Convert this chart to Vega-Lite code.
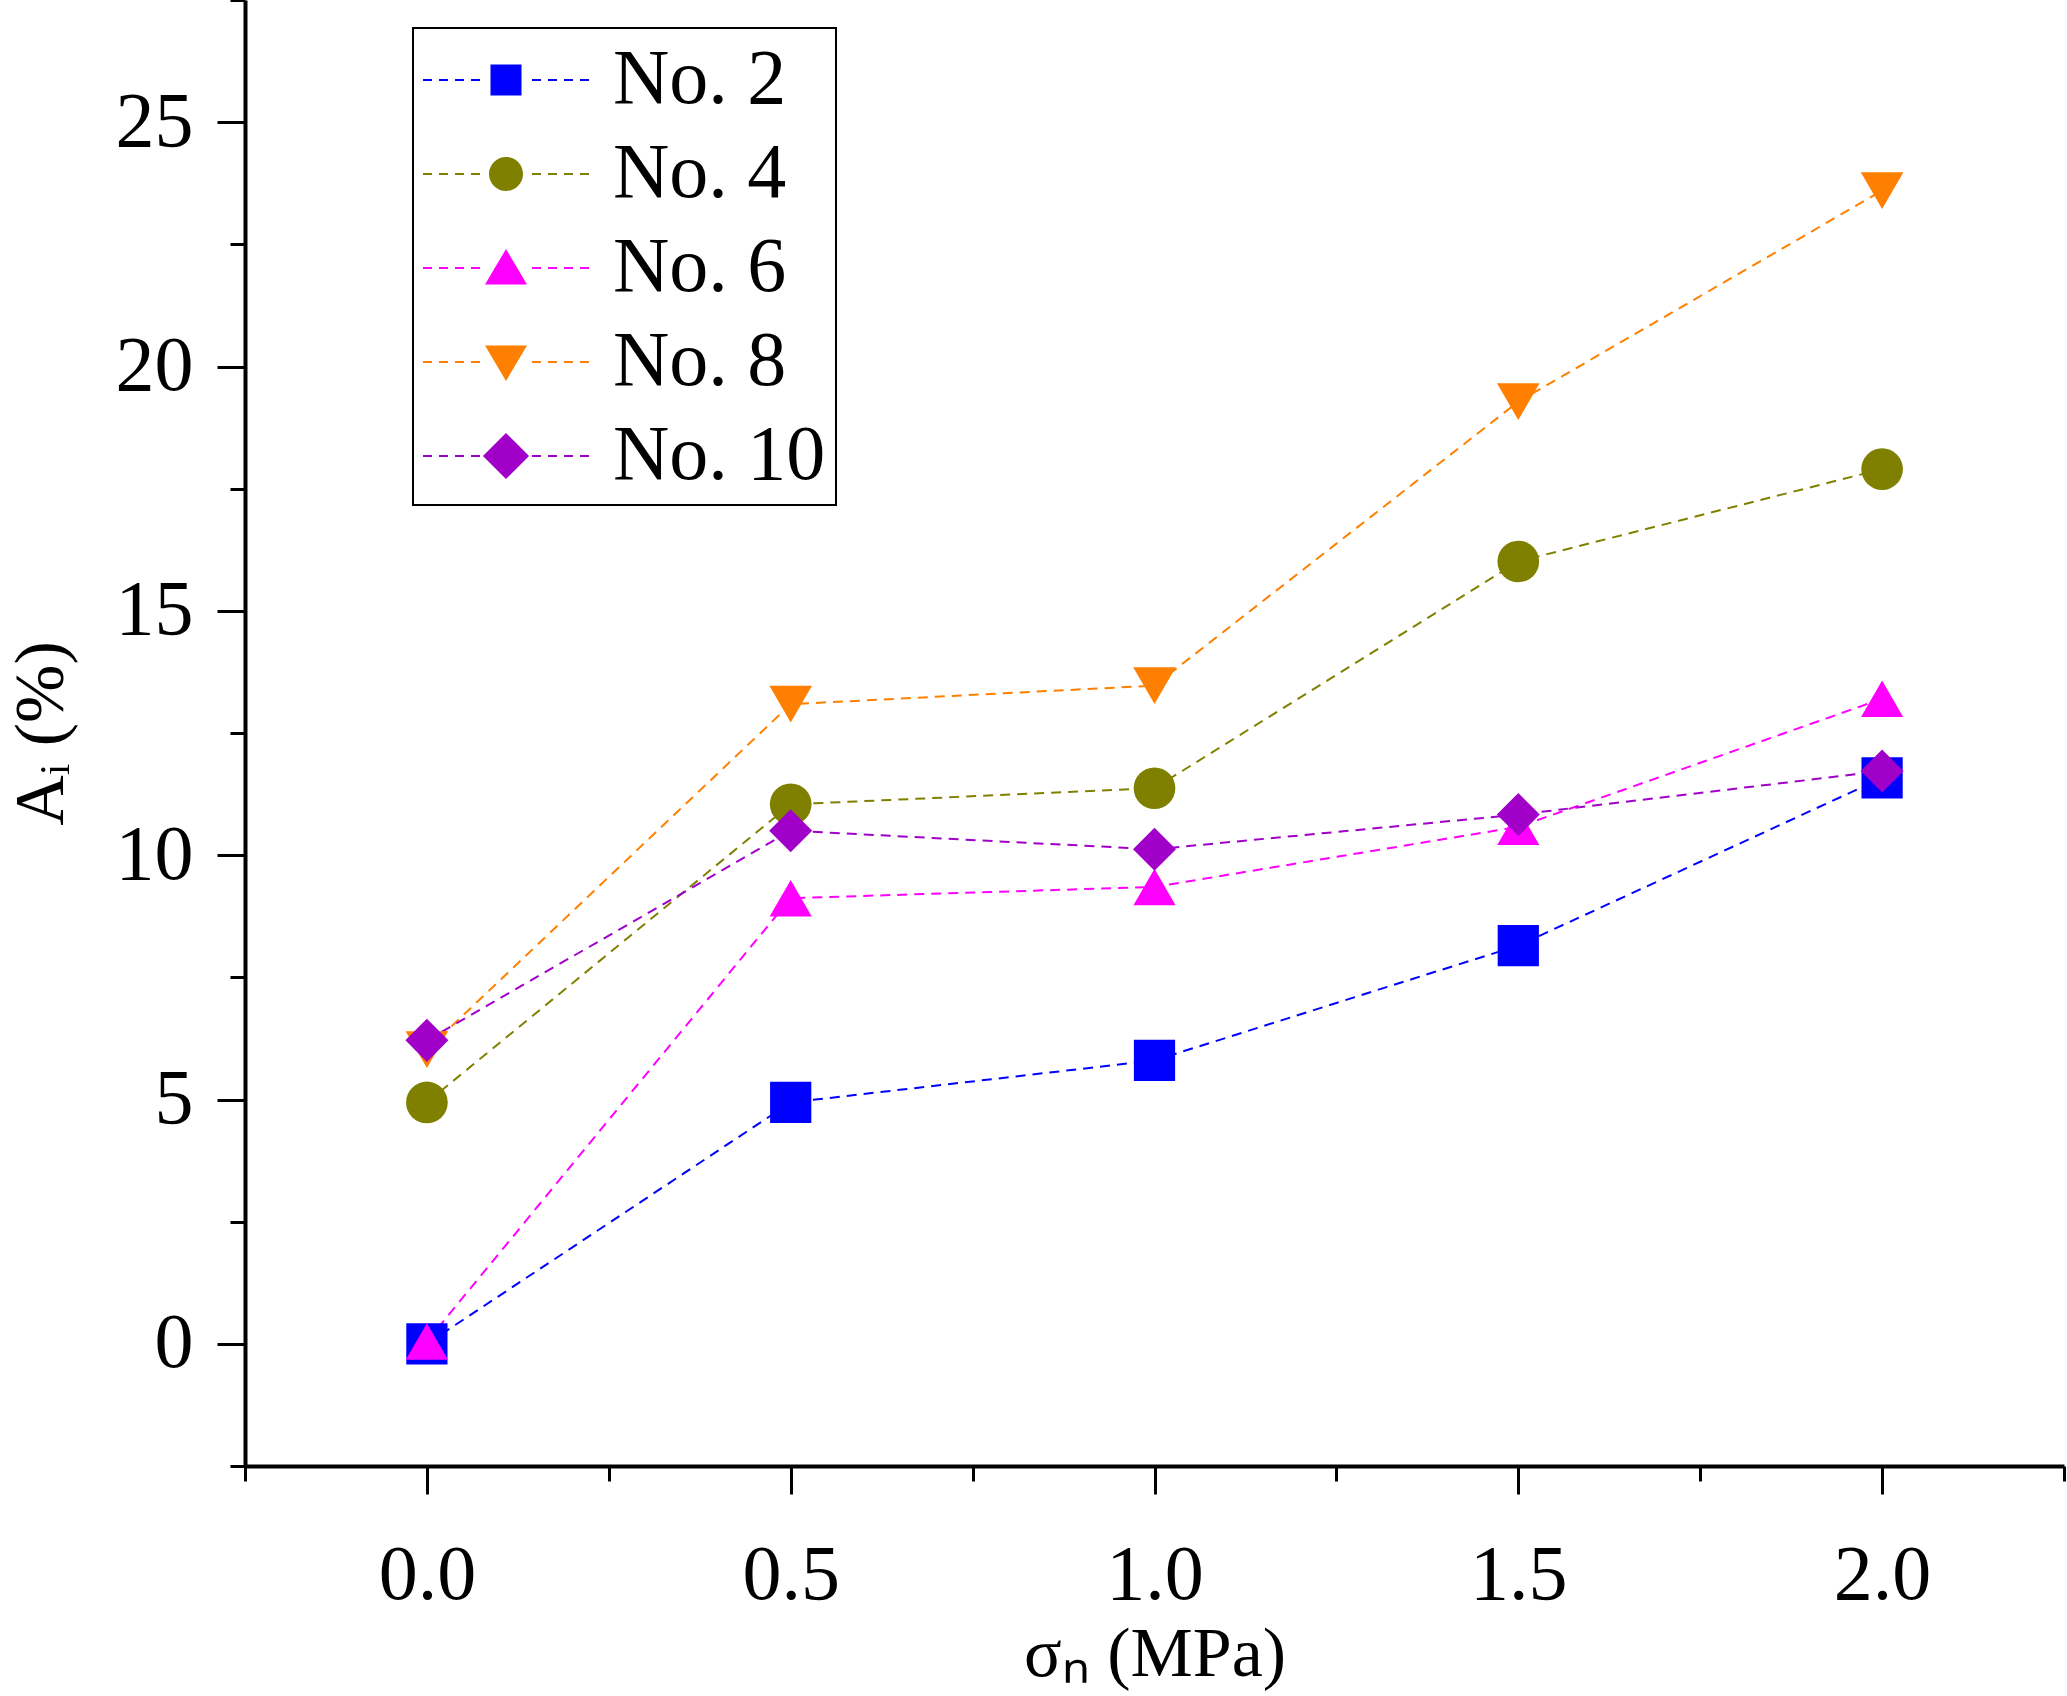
{
  "$schema": "https://vega.github.io/schema/vega-lite/v6.json",
  "autosize": "none",
  "width": 1819,
  "height": 1466,
  "padding": {"left": 245, "top": 0, "right": 3, "bottom": 230},
  "background": "white",
  "config": {
    "view": {"stroke": null},
    "font": "Liberation Serif",
    "legend": {"strokeWidth": 2},
    "axis": {
      "grid": false,
      "domainColor": "black",
      "domainWidth": 4,
      "tickColor": "black",
      "tickWidth": 3,
      "labelFont": "Liberation Serif",
      "labelFontSize": 78,
      "labelColor": "black",
      "titleFont": "Liberation Serif",
      "titleFontSize": 70,
      "titleFontWeight": "normal",
      "titleColor": "black"
    }
  },
  "resolve": {"axis": {"x": "independent", "y": "independent"}},
  "data": {
    "values": [
      {"sigma": 0.0, "A": 0.0, "series": "No. 2"},
      {"sigma": 0.5, "A": 4.94, "series": "No. 2"},
      {"sigma": 1.0, "A": 5.8, "series": "No. 2"},
      {"sigma": 1.5, "A": 8.15, "series": "No. 2"},
      {"sigma": 2.0, "A": 11.58, "series": "No. 2"},
      {"sigma": 0.0, "A": 4.94, "series": "No. 4"},
      {"sigma": 0.5, "A": 11.04, "series": "No. 4"},
      {"sigma": 1.0, "A": 11.37, "series": "No. 4"},
      {"sigma": 1.5, "A": 16.01, "series": "No. 4"},
      {"sigma": 2.0, "A": 17.9, "series": "No. 4"},
      {"sigma": 0.0, "A": 0.05, "series": "No. 6"},
      {"sigma": 0.5, "A": 9.12, "series": "No. 6"},
      {"sigma": 1.0, "A": 9.35, "series": "No. 6"},
      {"sigma": 1.5, "A": 10.58, "series": "No. 6"},
      {"sigma": 2.0, "A": 13.2, "series": "No. 6"},
      {"sigma": 0.0, "A": 6.02, "series": "No. 8"},
      {"sigma": 0.5, "A": 13.09, "series": "No. 8"},
      {"sigma": 1.0, "A": 13.47, "series": "No. 8"},
      {"sigma": 1.5, "A": 19.28, "series": "No. 8"},
      {"sigma": 2.0, "A": 23.6, "series": "No. 8"},
      {"sigma": 0.0, "A": 6.21, "series": "No. 10"},
      {"sigma": 0.5, "A": 10.5, "series": "No. 10"},
      {"sigma": 1.0, "A": 10.12, "series": "No. 10"},
      {"sigma": 1.5, "A": 10.83, "series": "No. 10"},
      {"sigma": 2.0, "A": 11.72, "series": "No. 10"}
    ]
  },
  "layer": [
    {
      "mark": {"type": "line", "strokeWidth": 2, "strokeDash": [10, 7]},
      "encoding": {
        "x": {
          "field": "sigma",
          "type": "quantitative",
          "scale": {"domain": [-0.25, 2.25], "nice": false, "zero": false},
          "axis": {
            "orient": "bottom",
            "values": [0, 0.5, 1, 1.5, 2],
            "format": ".1f",
            "tickSize": 28,
            "labelPadding": 42,
            "title": "σₙ (MPa)",
            "titlePadding": 6
          }
        },
        "y": {
          "field": "A",
          "type": "quantitative",
          "scale": {"domain": [-2.5, 27.5], "nice": false, "zero": false},
          "axis": {
            "orient": "left",
            "values": [0, 5, 10, 15, 20, 25],
            "tickSize": 28,
            "labelPadding": 24,
            "title": "Aᵢ (%)",
            "titlePadding": 38
          }
        },
        "stroke": {
          "field": "series",
          "type": "nominal",
          "scale": {
            "domain": ["No. 10", "No. 8", "No. 6", "No. 4", "No. 2"],
            "range": ["#A000C8", "#FF8000", "#FF00FF", "#808000", "#0000FF"]
          },
          "legend": null
        }
      }
    },
    {
      "mark": {"type": "point", "filled": true, "opacity": 1, "strokeWidth": 0},
      "encoding": {
        "x": {
          "field": "sigma",
          "type": "quantitative",
          "axis": {
            "orient": "bottom",
            "values": [-0.25, 0.25, 0.75, 1.25, 1.75, 2.25],
            "labels": false,
            "domain": false,
            "tickSize": 15,
            "title": null
          }
        },
        "y": {
          "field": "A",
          "type": "quantitative",
          "axis": {
            "orient": "left",
            "values": [-2.5, 2.5, 7.5, 12.5, 17.5, 22.5, 27.5],
            "labels": false,
            "domain": false,
            "tickSize": 15,
            "title": null
          }
        },
        "color": {
          "field": "series",
          "type": "nominal",
          "scale": {
            "domain": ["No. 2", "No. 4", "No. 6", "No. 8", "No. 10"],
            "range": ["#0000FF", "#808000", "#FF00FF", "#FF8000", "#A000C8"]
          },
          "legend": {
            "title": null,
            "orient": "none",
            "legendX": 168,
            "legendY": 28,
            "padding": 10,
            "strokeColor": "black",
            "fillColor": "white",
            "symbolSize": 7056,
            "symbolOffset": 41,
            "symbolStrokeWidth": 0,
            "labelFont": "Liberation Serif",
            "labelFontSize": 78,
            "labelColor": "black",
            "labelLimit": 400,
            "labelOffset": 65,
            "rowPadding": 13,
            "encoding": {
              "symbols": {
                "shape": {
                  "value": {
                    "expr": "(datum.value == 'No. 2' ? 'M-0.369,-0.369L0.369,-0.369L0.369,0.369L-0.369,0.369Z' : datum.value == 'No. 4' ? 'M0.405,0A0.405,0.405 0 1,1 -0.405,0A0.405,0.405 0 1,1 0.405,0Z' : datum.value == 'No. 6' ? 'M0,-0.452L0.5,0.395L-0.5,0.395Z' : datum.value == 'No. 8' ? 'M0,0.452L0.5,-0.395L-0.5,-0.395Z' : 'M0,-0.548L0.548,0L0,0.548L-0.548,0Z') + ' M-1.976,-0.024L-1.762,-0.024L-1.762,0.024L-1.976,0.024Z M-1.595,-0.024L-1.381,-0.024L-1.381,0.024L-1.595,0.024Z M-1.214,-0.024L-1,-0.024L-1,0.024L-1.214,0.024Z M-0.833,-0.024L-0.619,-0.024L-0.619,0.024L-0.833,0.024Z M0.619,-0.024L0.833,-0.024L0.833,0.024L0.619,0.024Z M1,-0.024L1.214,-0.024L1.214,0.024L1,0.024Z M1.381,-0.024L1.595,-0.024L1.595,0.024L1.381,0.024Z M1.762,-0.024L1.976,-0.024L1.976,0.024L1.762,0.024Z'"
                  }
                }
              }
            }
          }
        },
        "shape": {
          "field": "series",
          "type": "nominal",
          "scale": {
            "domain": ["No. 10", "No. 8", "No. 6", "No. 4", "No. 2"],
            "range": ["diamond", "triangle-down", "triangle-up", "circle", "square"]
          },
          "legend": null
        },
        "size": {
          "field": "series",
          "type": "nominal",
          "scale": {
            "domain": ["No. 10", "No. 8", "No. 6", "No. 4", "No. 2"],
            "range": [1850, 1700, 1700, 1100, 870]
          },
          "legend": null
        }
      }
    }
  ]
}
